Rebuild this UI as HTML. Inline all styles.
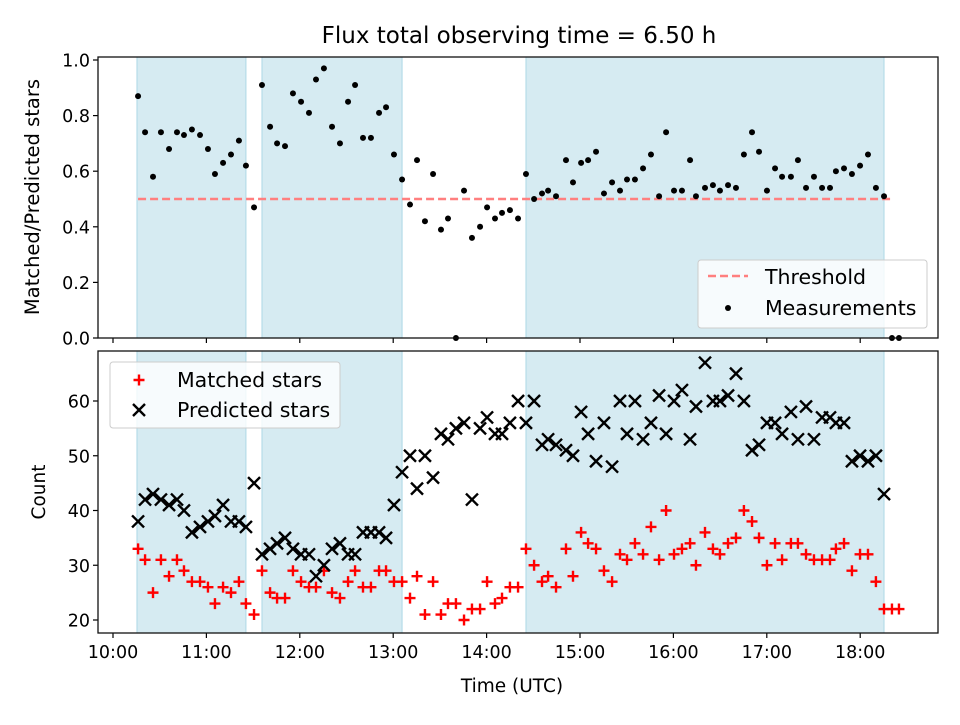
<!DOCTYPE html>
<html><head><meta charset="utf-8"><style>
body{margin:0;background:#fff}
svg text{font-family:"DejaVu Sans","Liberation Sans",sans-serif;fill:#000}
</style></head><body>
<svg id="chart" width="960" height="720" xmlns="http://www.w3.org/2000/svg">
<text x="519" y="43" font-size="23" text-anchor="middle">Flux total observing time = 6.50 h</text>
<g id="top"></g><g id="bot"></g>
<text x="512" y="692" font-size="18.5" text-anchor="middle">Time (UTC)</text>
<text transform="translate(39,197) rotate(-90)" font-size="19.5" text-anchor="middle">Matched/Predicted stars</text>
<text transform="translate(45,492) rotate(-90)" font-size="18.5" text-anchor="middle">Count</text>
</svg>
<script>
// minutes after 10:00 UTC
const times=[16.1,20.6,25.7,30.8,36.0,41.1,45.6,50.7,55.9,61.0,65.5,70.7,75.8,80.9,85.4,90.6,95.7,100.9,105.4,110.5,115.6,120.8,125.9,130.4,135.5,140.7,145.8,151.0,155.5,160.6,165.7,170.9,175.4,180.5,185.7,190.8,195.3,200.4,205.6,210.7,215.2,220.3,225.5,230.6,235.8,240.3,245.4,249.9,255.0,260.2,265.3,270.5,275.6,279.5,284.6,291.0,295.5,300.7,305.2,310.3,315.4,320.6,325.7,330.2,335.3,340.5,345.6,350.8,355.3,360.4,365.5,370.7,374.5,380.3,385.4,389.9,395.1,400.2,405.3,410.5,415.0,420.1,425.3,429.8,435.5,440.0,445.2,450.3,455.5,460.6,464.4,469.6,474.7,479.9,485.0,490.1,495.3,500.4,504.9];
const ratio=[.87,.74,.58,.74,.68,.74,.73,.75,.73,.68,.59,.63,.66,.71,.62,.47,.91,.76,.70,.69,.88,.85,.81,.93,.97,.76,.70,.85,.91,.72,.72,.81,.83,.66,.57,.48,.64,.42,.59,.39,.43,0,.53,.36,.40,.47,.43,.45,.46,.43,.59,.50,.52,.53,.51,.64,.56,.63,.64,.67,.52,.56,.53,.57,.57,.61,.66,.51,.74,.53,.53,.64,.51,.54,.55,.53,.55,.54,.66,.74,.67,.53,.61,.58,.58,.64,.54,.58,.54,.54,.60,.61,.59,.62,.66,.54,.51,0,0];
const matched=[33,31,25,31,28,31,29,27,27,26,23,26,25,27,23,21,29,25,24,24,29,27,26,26,29,25,24,27,29,26,26,29,29,27,27,24,28,21,27,21,23,23,20,22,22,27,23,24,26,26,33,30,27,28,26,33,28,36,34,33,29,27,32,31,34,32,37,31,40,32,33,34,30,36,33,32,34,35,40,38,35,30,34,31,34,34,32,31,31,31,33,34,29,32,32,27,22,22,22];
const predicted=[38,42,43,42,41,42,40,36,37,38,39,41,38,38,37,45,32,33,34,35,33,32,32,28,30,33,34,32,32,36,36,36,35,41,47,50,44,50,46,54,53,55,56,42,55,57,54,54,56,60,56,60,52,53,52,51,50,58,54,49,56,48,60,54,60,53,56,61,54,60,62,53,59,67,60,60,61,65,60,51,52,56,56,54,58,53,59,53,57,57,56,56,49,50,49,50,43,null,null];
const windows=[[15.4,85.4],[95.7,185.7],[265.3,495.3]];
const threshold=0.5, thrStart=16.1, thrEnd=500.4;
const xTickVals=[0,60,120,180,240,300,360,420,480];
const xTickLabels=["10:00","11:00","12:00","13:00","14:00","15:00","16:00","17:00","18:00"];
const topTicks=[0,0.2,0.4,0.6,0.8,1.0];
const botTicks=[20,30,40,50,60];

const NS="http://www.w3.org/2000/svg";
const L=98,R=938;
const x=m=>113+m*93.4/60;
const yT=v=>338-v*278;
const yB=c=>620-(c-20)*5.475;
function mk(p,t,a){const e=document.createElementNS(NS,t);for(const k in a)e.setAttribute(k,a[k]);p.appendChild(e);return e;}

function panel(g,top,bottom,yf,ticks,fmt,labels){
  windows.forEach(w=>{const r=mk(g,'rect',{x:x(w[0]),y:top,width:x(w[1])-x(w[0]),height:bottom-top,fill:'#add8e6','fill-opacity':0.5,stroke:'#add8e6','stroke-width':1});
    
    });
  ticks.forEach(t=>{const yy=yf(t);mk(g,'line',{x1:L-5,x2:L,y1:yy,y2:yy,stroke:'#000','stroke-width':1.2});
    const tx=mk(g,'text',{x:L-8,y:yy+6.5,'font-size':17.5,'text-anchor':'end'});tx.textContent=fmt(t);
    
    });
  xTickVals.forEach((t,i)=>{const xx=x(t);mk(g,'line',{x1:xx,x2:xx,y1:bottom,y2:bottom+5,stroke:'#000','stroke-width':1.2});
    if(labels){const tx=mk(g,'text',{x:xx,y:bottom+25,'font-size':17.5,'text-anchor':'middle'});tx.textContent=xTickLabels[i];
    
    }});
}
function frame(g,top,bottom,name){const r=mk(g,'rect',{x:L,y:top,width:R-L,height:bottom-top,fill:'none',stroke:'#111','stroke-width':1.3});
  
  }

const gt=document.getElementById('top');
panel(gt,57,338,yT,topTicks,v=>v.toFixed(1),false);
const th=mk(gt,'line',{x1:x(thrStart),x2:x(thrEnd),y1:yT(threshold),y2:yT(threshold),stroke:'#ff7f7f','stroke-width':2.5,'stroke-dasharray':'8,4'});


times.forEach((t,i)=>{const c=mk(gt,'circle',{cx:x(t),cy:yT(ratio[i]),r:3,fill:'#000'});
  
  });
frame(gt,57,338,'top-plot-frame');
const lg1=mk(gt,'g',{});


mk(lg1,'rect',{x:698,y:260,width:229,height:68,rx:3,fill:'#fff','fill-opacity':0.8,stroke:'#ccc'});
mk(lg1,'line',{x1:708,x2:748,y1:276,y2:276,stroke:'#ff7f7f','stroke-width':2.5,'stroke-dasharray':'8,4'});
let t1=mk(lg1,'text',{x:765,y:284,'font-size':20.5});t1.textContent='Threshold';
mk(lg1,'circle',{cx:728,cy:308,r:3,fill:'#000'});
let t2=mk(lg1,'text',{x:765,y:315,'font-size':20.5});t2.textContent='Measurements';

const gb=document.getElementById('bot');
panel(gb,351,633,yB,botTicks,v=>String(v),true);
function plus(g,cx,cy){return mk(g,'path',{d:`M${cx-5.5},${cy}H${cx+5.5}M${cx},${cy-5.5}V${cy+5.5}`,stroke:'red','stroke-width':2.4,fill:'none'});}
function cross(g,cx,cy){return mk(g,'path',{d:`M${cx-6},${cy-6}L${cx+6},${cy+6}M${cx-6},${cy+6}L${cx+6},${cy-6}`,stroke:'#000','stroke-width':2.4,fill:'none'});}
times.forEach((t,i)=>{const p=plus(gb,x(t),yB(matched[i]));
  
  });
times.forEach((t,i)=>{if(predicted[i]==null)return;const p=cross(gb,x(t),yB(predicted[i]));
  
  });
frame(gb,351,633,'bottom-plot-frame');
const lg2=mk(gb,'g',{});


mk(lg2,'rect',{x:110,y:362,width:230,height:66,rx:3,fill:'#fff','fill-opacity':0.8,stroke:'#ccc'});
plus(lg2,139,380);
let t3=mk(lg2,'text',{x:177,y:387,'font-size':20.5});t3.textContent='Matched stars';
cross(lg2,139,410);
let t4=mk(lg2,'text',{x:177,y:417,'font-size':20.5});t4.textContent='Predicted stars';
</script>
</body></html>
